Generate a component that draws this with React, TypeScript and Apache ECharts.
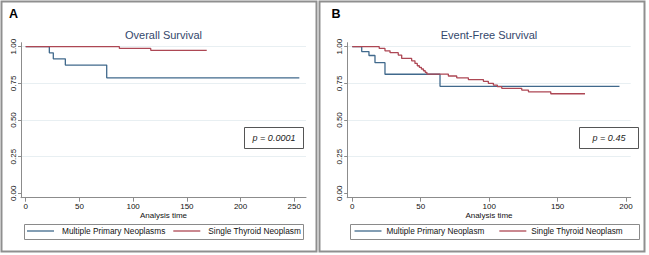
import React, { useEffect, useRef } from "react";
import * as echarts from "echarts";

// ---- Data ----
const overallMultipleTime = [0, 22, 25.7, 36.9, 75.4, 254.7];
const overallMultipleSurv = [1, 0.958, 0.917, 0.875, 0.788, 0.788];
const overallSingleTime = [0, 87.2, 116.4, 168.5];
const overallSingleSurv = [1, 0.988, 0.975, 0.975];

const efsMultipleTime = [0, 6.9, 12.2, 16.6, 23.9, 64.1, 195.2];
const efsMultipleSurv = [1, 0.967, 0.94, 0.891, 0.812, 0.73, 0.73];
const efsSingleTime = [0, 19.7, 23.9, 27.6, 33.6, 36.1, 43.4, 45.8, 47.5, 49, 50.5, 52, 53.3, 54.5, 70.2, 76.3, 84.8, 95.8, 99.4, 103.1, 106, 109.2, 123.8, 128.7, 145, 170];
const efsSingleSurv = [1, 0.988, 0.972, 0.959, 0.943, 0.92, 0.904, 0.886, 0.87, 0.859, 0.848, 0.836, 0.825, 0.813, 0.8, 0.788, 0.776, 0.764, 0.75, 0.738, 0.727, 0.716, 0.704, 0.692, 0.679, 0.679];

const xTicksA = [0, 50, 100, 150, 200, 250];
const xTicksB = [0, 50, 100, 150, 200];
const yTicks = [0, 0.25, 0.5, 0.75, 1];

const nameMultipleA = "Multiple Primary Neoplasms";
const nameMultipleB = "Multiple Primary Neoplasm";
const nameSingle = "Single Thyroid Neoplasm";
const titleA = "Overall Survival";
const titleB = "Event-Free Survival";
const pValueA = "p = 0.0001";
const pValueB = "p = 0.45";
const xAxisName = "Analysis time";

// ---- Styles ----
const FONT = "'Liberation Sans', Arial, Helvetica, sans-serif";
const BLUE = "#40698c";
const RED = "#ad4754";
const AXIS = "#8c8c8c";
const TEXT = "#111111";
const TITLE = "#33476b";
const GRID = "#e8eff2";

const pairs = (t: number[], s: number[]) => t.map((v, i) => [v, s[i]]);

function makeX(gridIndex: number, min: number, max: number, ticks: number[]) {
  return {
    type: "value",
    gridIndex,
    min,
    max,
    axisLine: { show: true, onZero: false, lineStyle: { color: AXIS, width: 1 } },
    axisTick: { show: true, length: 4, customValues: ticks, lineStyle: { color: AXIS, width: 1 } },
    axisLabel: { customValues: ticks, margin: 5, fontSize: 8, lineHeight: 8, color: TEXT, fontFamily: FONT },
    splitLine: { show: false },
    name: xAxisName,
    nameLocation: "middle",
    nameGap: 13.5,
    nameMoveOverlap: false,
    nameTextStyle: { fontSize: 8, lineHeight: 8, color: TEXT, fontFamily: FONT },
  };
}

function makeY(gridIndex: number) {
  return {
    type: "value",
    gridIndex,
    min: -0.03,
    max: 1.0273,
    axisLine: { show: true, onZero: false, lineStyle: { color: AXIS, width: 1 } },
    axisTick: { show: true, length: 3, customValues: yTicks, lineStyle: { color: AXIS, width: 1 } },
    axisLabel: {
      customValues: yTicks,
      rotate: 90,
      margin: 4,
      fontSize: 8,
      color: TEXT,
      fontFamily: FONT,
      formatter: (v: number) => v.toFixed(2),
    },
    splitLine: {
      show: true,
      lineStyle: { color: ["rgba(0,0,0,0)", GRID, GRID, GRID, GRID], width: 1 },
    },
  };
}

function lineSeries(name: string, idx: number, t: number[], s: number[], color: string) {
  return {
    type: "line",
    name,
    xAxisIndex: idx,
    yAxisIndex: idx,
    step: "end",
    showSymbol: false,
    symbol: "none",
    silent: true,
    data: pairs(t, s),
    lineStyle: { color, width: 1.3 },
    itemStyle: { color },
  };
}

function txt(x: number, y: number, text: string, extra: any) {
  return {
    type: "text",
    x,
    y,
    silent: true,
    style: {
      text,
      fontFamily: FONT,
      align: "center",
      verticalAlign: "middle",
      textAlign: "center",
      textVerticalAlign: "middle",
      ...extra,
    },
  };
}

function box(x: number, y: number, w: number, h: number, stroke: string, lw: number) {
  return {
    type: "rect",
    silent: true,
    shape: { x, y, width: w, height: h },
    style: { fill: "none", stroke, lineWidth: lw },
  };
}

export default function App() {
  const ref = useRef<HTMLDivElement>(null);
  useEffect(() => {
    if (!ref.current) return;
    const chart = echarts.init(ref.current, null, { renderer: "svg" });
    const legendCommon = {
      top: 227,
      itemWidth: 27,
      itemHeight: 1.3,
      icon: "rect",
      padding: 0,
      selectedMode: false,
    };
    chart.setOption({
      animation: false,
      backgroundColor: "#ffffff",
      grid: [
        { left: 21, top: 42.7, width: 285, height: 155, containLabel: false },
        { left: 347.2, top: 42.7, width: 283.5, height: 155, containLabel: false },
      ],
      xAxis: [makeX(0, -4.37, 260.9, xTicksA), makeX(1, -3.7, 203.4, xTicksB)],
      yAxis: [makeY(0), makeY(1)],
      legend: [
        {
          ...legendCommon,
          left: 27,
          itemGap: 8,
          data: [nameMultipleA, nameSingle],
          textStyle: { fontSize: 8.3, color: TEXT, fontFamily: FONT, padding: [0, 0, 0, 3] },
        },
        {
          ...legendCommon,
          left: 354.5,
          itemGap: 15,
          data: [nameMultipleB, nameSingle],
          textStyle: { fontSize: 8.2, color: TEXT, fontFamily: FONT },
        },
      ],
      series: [
        lineSeries(nameMultipleA, 0, overallMultipleTime, overallMultipleSurv, BLUE),
        lineSeries(nameSingle, 0, overallSingleTime, overallSingleSurv, RED),
        lineSeries(nameMultipleB, 1, efsMultipleTime, efsMultipleSurv, BLUE),
        lineSeries(nameSingle, 1, efsSingleTime, efsSingleSurv, RED),
      ],
      graphic: [
        box(1.5, 1.5, 315, 250, "#8f8f8f", 2),
        box(319.5, 1.5, 325, 250, "#8f8f8f", 2),
        txt(13.5, 14, "A", { fontSize: 12.5, fontWeight: "bold", fill: "#000" }),
        txt(336, 14, "B", { fontSize: 12.5, fontWeight: "bold", fill: "#000" }),
        txt(163.5, 35, titleA, { fontSize: 11, fill: TITLE }),
        txt(489, 35, titleB, { fontSize: 11, fill: TITLE }),
        box(244.5, 127.5, 59, 21, "#555555", 1),
        box(579.5, 127.5, 59, 21, "#555555", 1),
        txt(274, 138.3, pValueA, { fontSize: 9, fontStyle: "italic", fill: "#222" }),
        txt(609, 138.3, pValueB, { fontSize: 9, fontStyle: "italic", fill: "#222" }),
        box(24.5, 224.5, 279, 15, "#8a8a8a", 1),
        box(350.5, 224.5, 289, 15, "#8a8a8a", 1),
      ],
    });
    return () => chart.dispose();
  }, []);
  return (
    <div
      ref={ref}
      style={{ position: "absolute", left: 0, top: 0, width: 649, height: 255 }}
    />
  );
}
